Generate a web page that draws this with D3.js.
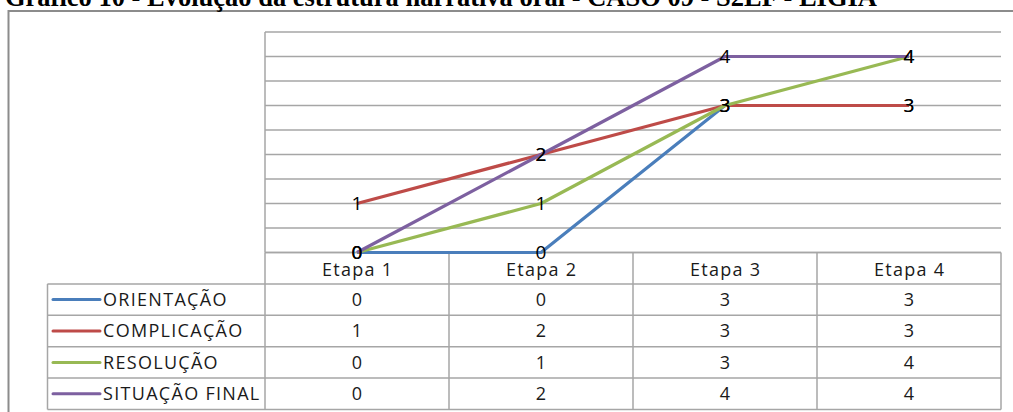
<!DOCTYPE html>
<html>
<head>
<meta charset="utf-8">
<script src="https://cdn.jsdelivr.net/npm/d3@7"></script>
<style>
  html, body { margin: 0; padding: 0; background: #fff; }
  svg { display: block; }
</style>
</head>
<body>
<svg id="chart" width="1013" height="412"></svg>
<script>
// Chart data
const titleText = "Gráfico 10 - Evolução da estrutura narrativa oral - CASO 09 - S2EF - LÍGIA";
const categories = ["Etapa 1", "Etapa 2", "Etapa 3", "Etapa 4"];
const seriesNames = ["ORIENTAÇÃO", "COMPLICAÇÃO", "RESOLUÇÃO", "SITUAÇÃO FINAL"];
const orientacao = [0, 0, 3, 3];
const complicacao = [1, 2, 3, 3];
const resolucao = [0, 1, 3, 4];
const situacaoFinal = [0, 2, 4, 4];
const seriesColors = ["#4a7ebb", "#be4b48", "#98b954", "#7d60a0"];
const gridTicks = [0, 0.5, 1, 1.5, 2, 2.5, 3, 3.5, 4, 4.5];

const series = [orientacao, complicacao, resolucao, situacaoFinal].map((values, i) => ({
  name: seriesNames[i], values, color: seriesColors[i]
}));

const svg = d3.select("#chart");
const gridColor = "#a6a6a6";
const labelFont = "'Open Sans', Lato, sans-serif";
const tableFontSize = 18;
const tableSpacing = 1.3;

// Plot geometry
const plot = { left: 265, right: 1001, top: 32, bottom: 252.5 };
const tableLeft = 47.5;
const rowH = 31.4;

const x = d3.scaleBand().domain(categories).range([plot.left, plot.right]);
const y = d3.scaleLinear().domain([0, 4.5]).range([plot.bottom, plot.top]);
const cx = c => x(c) + x.bandwidth() / 2;

// Outer frame (left and top edges)
svg.append("path")
  .attr("d", "M8.5,412 V11 H1013")
  .attr("fill", "none")
  .attr("stroke", "#8c8c8c")
  .attr("stroke-width", 2);

// Title
const title = svg.append("text")
  .attr("x", 5)
  .attr("y", 6)
  .attr("font-family", "'Liberation Serif', 'Times New Roman', serif")
  .attr("font-weight", "bold")
  .attr("font-size", 20)
  .attr("fill", "#000")
  .text(titleText);
const tw = title.node().getComputedTextLength();
title.attr("font-size", 20 * 872 / tw);

// Horizontal gridlines
svg.append("g")
  .selectAll("line")
  .data(gridTicks)
  .join("line")
  .attr("x1", plot.left)
  .attr("x2", plot.right)
  .attr("y1", d => y(d))
  .attr("y2", d => y(d))
  .attr("stroke", gridColor)
  .attr("stroke-width", 1.5);

// Plot left edge
svg.append("line")
  .attr("x1", plot.left).attr("x2", plot.left)
  .attr("y1", plot.top).attr("y2", plot.bottom)
  .attr("stroke", gridColor).attr("stroke-width", 1.5);

// Data table below the plot
const tableTop = plot.bottom;
const rowsY = d3.range(series.length + 2).map(i => tableTop + i * rowH);
const tableBottom = rowsY[rowsY.length - 1];
const table = svg.append("g");

// horizontal rules
rowsY.forEach((ry, i) => {
  if (i === 0) return;
  table.append("line")
    .attr("x1", tableLeft).attr("x2", plot.right)
    .attr("y1", ry).attr("y2", ry)
    .attr("stroke", gridColor).attr("stroke-width", 1.5);
});
table.append("line")
  .attr("x1", plot.left).attr("x2", plot.right)
  .attr("y1", tableTop).attr("y2", tableTop)
  .attr("stroke", gridColor).attr("stroke-width", 1.5);

// vertical rules
const colEdges = categories.map(c => x(c)).concat([plot.right]);
colEdges.forEach(cxv => {
  table.append("line")
    .attr("x1", cxv).attr("x2", cxv)
    .attr("y1", tableTop).attr("y2", tableBottom)
    .attr("stroke", gridColor).attr("stroke-width", 1.5);
});
table.append("line")
  .attr("x1", tableLeft).attr("x2", tableLeft)
  .attr("y1", rowsY[1]).attr("y2", tableBottom)
  .attr("stroke", gridColor).attr("stroke-width", 1.5);

// header: category names
table.selectAll("text.cat")
  .data(categories)
  .join("text")
  .attr("class", "cat")
  .attr("x", d => cx(d) + tableSpacing / 2)
  .attr("y", tableTop + rowH / 2 + 1)
  .attr("dy", "0.36em")
  .attr("text-anchor", "middle")
  .attr("font-family", labelFont)
  .attr("font-size", tableFontSize)
  .attr("letter-spacing", tableSpacing)
  .attr("fill", "#1a1a1a")
  .text(d => d);

// body rows: legend key + values
series.forEach((s, i) => {
  const rc = rowsY[i + 1] + rowH / 2;
  table.append("line")
    .attr("x1", 53).attr("x2", 100)
    .attr("y1", rc).attr("y2", rc)
    .attr("stroke", s.color).attr("stroke-width", 3)
    .attr("stroke-linecap", "round");
  table.append("text")
    .attr("x", 103)
    .attr("y", rc)
    .attr("dy", "0.36em")
    .attr("font-family", labelFont)
    .attr("font-size", tableFontSize)
    .attr("letter-spacing", tableSpacing)
    .attr("fill", "#1a1a1a")
    .text(s.name);
  table.selectAll(null)
    .data(s.values)
    .join("text")
    .attr("x", (d, j) => cx(categories[j]))
    .attr("y", rc)
    .attr("dy", "0.36em")
    .attr("text-anchor", "middle")
    .attr("font-family", labelFont)
    .attr("font-size", tableFontSize)
    .attr("fill", "#1a1a1a")
    .text(d => d);
});

// Series lines
const line = d3.line()
  .x((d, j) => cx(categories[j]))
  .y(d => y(d));

svg.append("g")
  .selectAll("path")
  .data(series)
  .join("path")
  .attr("d", d => line(d.values))
  .attr("fill", "none")
  .attr("stroke", d => d.color)
  .attr("stroke-width", 3.2)
  .attr("stroke-linejoin", "round");

// Data labels at each point
const labels = svg.append("g");
series.forEach(s => {
  labels.selectAll(null)
    .data(s.values)
    .join("text")
    .attr("x", (d, j) => cx(categories[j]))
    .attr("y", d => y(d))
    .attr("dy", "0.36em")
    .attr("text-anchor", "middle")
    .attr("font-family", labelFont)
    .attr("font-size", 19)
    .attr("fill", "#000")
    .text(d => d);
});
</script>
</body>
</html>
